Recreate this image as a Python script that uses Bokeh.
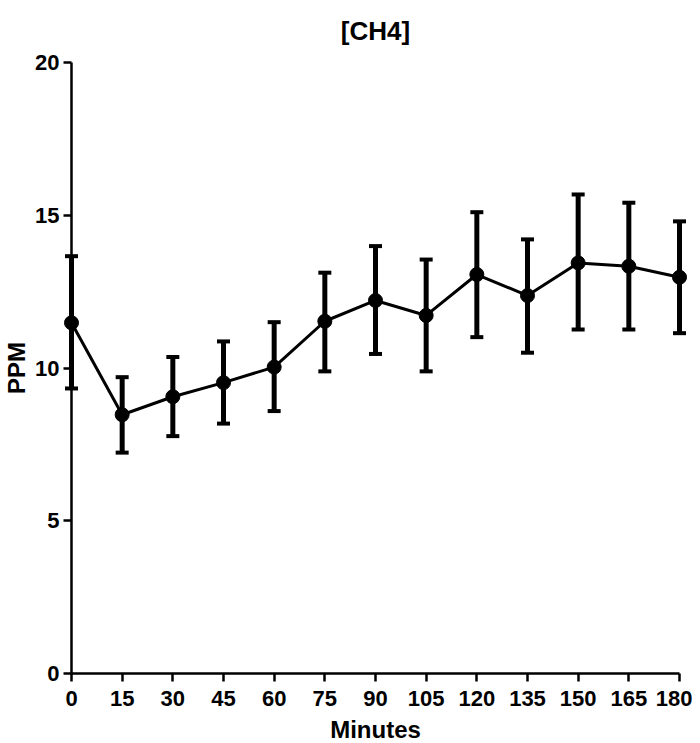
from bokeh.plotting import figure
from bokeh.models import ColumnDataSource, Range1d, FixedTicker
from bokeh.embed import file_html
from bokeh.resources import INLINE

minutes = [0, 15, 30, 45, 60, 75, 90, 105, 120, 135, 150, 165, 180]
ppm_mean = [11.48, 8.47, 9.06, 9.52, 10.03, 11.53, 12.21, 11.72, 13.06, 12.37, 13.44, 13.33, 12.97]
ppm_upper = [13.66, 9.70, 10.36, 10.87, 11.50, 13.12, 13.99, 13.55, 15.10, 14.21, 15.68, 15.41, 14.80]
ppm_lower = [9.33, 7.23, 7.77, 8.18, 8.59, 9.89, 10.46, 9.89, 11.01, 10.50, 11.26, 11.26, 11.14]
x_ticks = minutes
y_ticks = [0, 5, 10, 15, 20]

FONT = "Liberation Sans"

src = ColumnDataSource(dict(x=minutes, y=ppm_mean, up=ppm_upper, lo=ppm_lower))

p = figure(frame_width=608, frame_height=611, output_backend="svg", toolbar_location=None,
           x_range=Range1d(0, 180), y_range=Range1d(0, 20),
           min_border_left=63, min_border_right=13, min_border_top=61, min_border_bottom=70,
           title="[CH4]")
p.outline_line_color = None
p.grid.grid_line_color = None
p.background_fill_color = "white"
p.border_fill_color = "white"

p.title.text_font = FONT
p.title.text_font_style = "bold"
p.title.text_font_size = "26px"
p.title.align = "center"
p.title.vertical_align = "top"
p.title.text_color = "black"
p.title.standoff = 30

for ax in (p.xaxis[0], p.yaxis[0]):
    ax.axis_line_width = 2.5
    ax.axis_line_color = "black"
    ax.major_tick_line_width = 2.5
    ax.major_tick_line_color = "black"
    ax.major_tick_out = 8
    ax.major_tick_in = 0
    ax.minor_tick_line_color = None
    ax.major_label_text_font = FONT
    ax.major_label_text_font_style = "bold"
    ax.major_label_text_font_size = "22px"
    ax.major_label_text_color = "black"
    ax.axis_label_text_font = FONT
    ax.axis_label_text_font_style = "bold"
    ax.axis_label_text_font_size = "24px"
    ax.axis_label_text_color = "black"

p.xaxis.ticker = FixedTicker(ticks=x_ticks)
p.yaxis.ticker = FixedTicker(ticks=y_ticks)
p.xaxis.axis_label = "Minutes"
p.yaxis.axis_label = "PPM"
p.xaxis.major_label_standoff = 9
p.yaxis.major_label_standoff = 4
p.xaxis.axis_label_standoff = 7
p.yaxis.axis_label_standoff = 2

bars = p.segment(x0="x", y0="lo", x1="x", y1="up", source=src, line_width=5, line_color="black")
bars.level = "overlay"
caps_up = p.scatter("x", "up", source=src, marker="dash", size=13, line_width=4, line_color="black")
caps_up.level = "overlay"
caps_lo = p.scatter("x", "lo", source=src, marker="dash", size=13, line_width=4, line_color="black")
caps_lo.level = "overlay"

ln = p.line("x", "y", source=src, line_width=3, line_color="black")
ln.level = "overlay"
sc = p.scatter("x", "y", source=src, size=14, fill_color="black", line_color="black")
sc.level = "overlay"

open("out.html", "w").write(file_html(p, INLINE))
